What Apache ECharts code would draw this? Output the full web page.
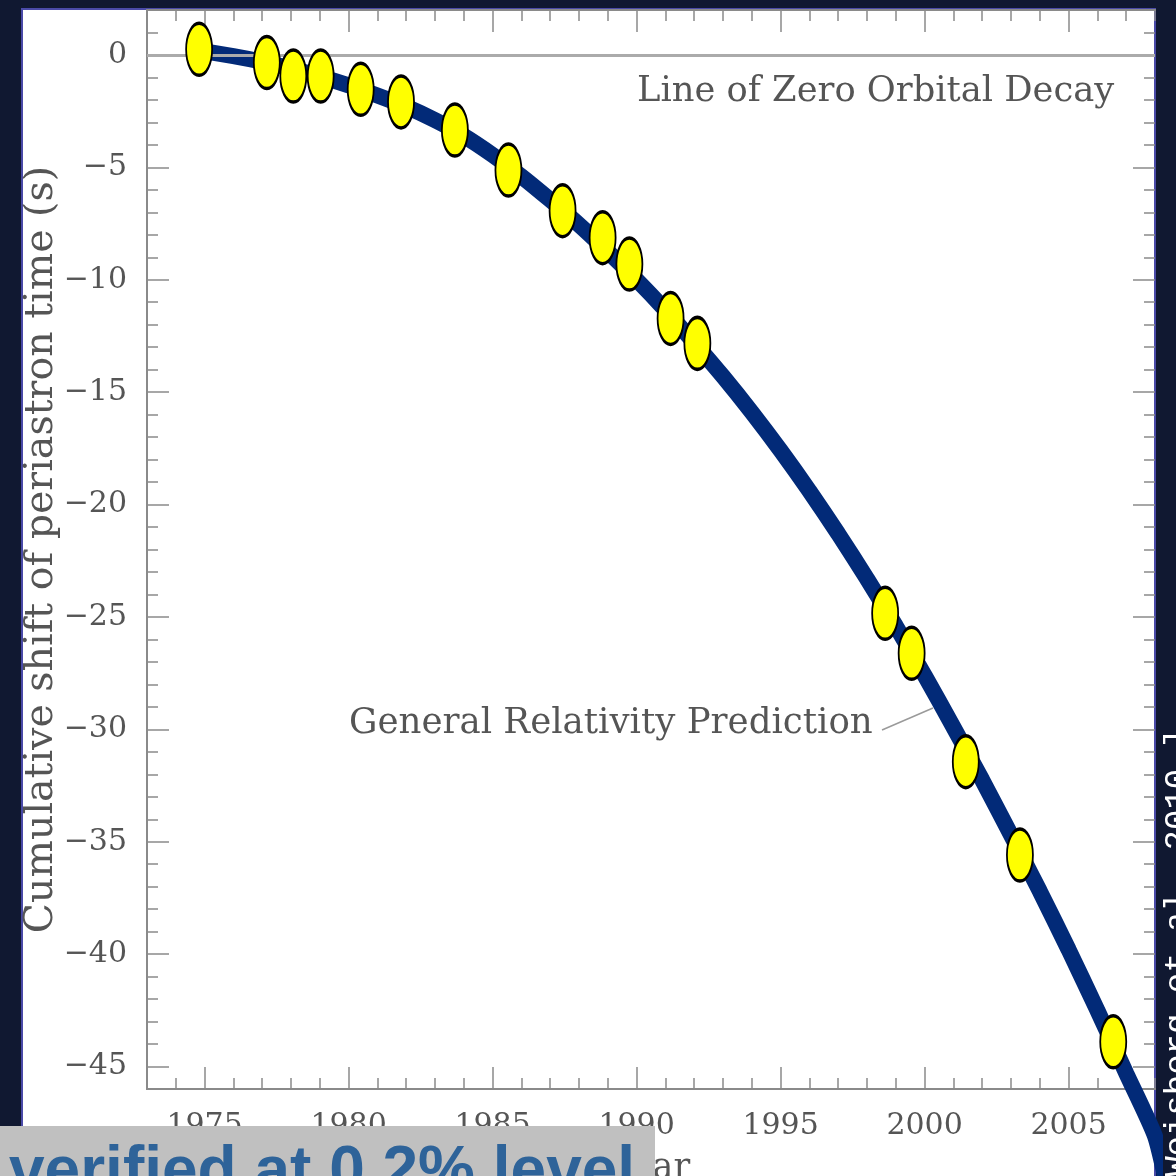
<!DOCTYPE html>
<html>
<head>
<meta charset="utf-8">
<title>Cumulative shift of periastron time</title>
<script src="https://cdn.jsdelivr.net/npm/echarts@6/dist/echarts.min.js"></script>
<style>
  html, body { margin: 0; padding: 0; background: #101831; }
  #chart { width: 1176px; height: 1176px; }
</style>
</head>
<body>
<div id="chart"></div>
<script>
// Measured periastron-time shifts (s) of the binary pulsar, by epoch
const obsYears  = [1974.81, 1977.16, 1978.08, 1979.03, 1980.42, 1981.82, 1983.69, 1985.55, 1987.43,
                   1988.82, 1989.75, 1991.18, 1992.11, 1998.63, 1999.55, 2001.43, 2003.31, 2006.55];
const obsShifts = [0.25, -0.34, -0.94, -0.94, -1.53, -2.09, -3.34, -5.12, -6.93,
                   -8.13, -9.30, -11.72, -12.83, -24.84, -26.62, -31.44, -35.59, -43.90];

// General Relativity prediction curve
const grYears  = [1974.8, 1976, 1977, 1978, 1979, 1980, 1981, 1982, 1983, 1984, 1985, 1986, 1987,
                  1988, 1989, 1990, 1991, 1992, 1993, 1994, 1995, 1996, 1997, 1998, 1999, 2000,
                  2001, 2002, 2003, 2004, 2005, 2006, 2007, 2008, 2008.5];
const grShifts = [0.2, -0.05, -0.3, -0.6, -0.95, -1.35, -1.8, -2.3, -2.9, -3.6, -4.45, -5.4, -6.45,
                  -7.55, -8.75, -10.0, -11.35, -12.8, -14.3, -15.9, -17.6, -19.4, -21.3, -23.3, -25.4, -27.6,
                  -29.9, -32.25, -34.7, -37.2, -39.8, -42.5, -45.3, -48.1, -50.8];

// Axis ticks and labels
const yearMajor  = [1975, 1980, 1985, 1990, 1995, 2000, 2005];
const yearMinor  = [1973, 1974, 1975, 1976, 1977, 1978, 1979, 1980, 1981, 1982, 1983, 1984, 1985, 1986,
                    1987, 1988, 1989, 1990, 1991, 1992, 1993, 1994, 1995, 1996, 1997, 1998, 1999, 2000,
                    2001, 2002, 2003, 2004, 2005, 2006, 2007, 2008];
const shiftMajor = [0, -5, -10, -15, -20, -25, -30, -35, -40, -45];
const shiftMinor = [2, 1, 0, -1, -2, -3, -4, -5, -6, -7, -8, -9, -10, -11, -12, -13, -14, -15, -16, -17,
                    -18, -19, -20, -21, -22, -23, -24, -25, -26, -27, -28, -29, -30, -31, -32, -33, -34,
                    -35, -36, -37, -38, -39, -40, -41, -42, -43, -44, -45, -46];

const X_MIN = 1973, X_MAX = 2008, Y_MIN = -46, Y_MAX = 2;
const AXIS_GREY = '#8a8a8a';
const TEXT_GREY = '#555';
const SERIF = '"DejaVu Serif", "Liberation Serif", serif';

function xAxisDef(position, ticks, len, withLabels) {
  return {
    type: 'value', position: position, min: X_MIN, max: X_MAX,
    axisLine: { show: true, onZero: false, lineStyle: { color: AXIS_GREY, width: 2 } },
    axisTick: { show: true, inside: true, length: len, customValues: ticks,
                lineStyle: { color: AXIS_GREY, width: 1.5 } },
    axisLabel: withLabels ? { show: true, customValues: yearMajor, margin: 22, fontSize: 30,
                fontFamily: SERIF, color: TEXT_GREY, formatter: v => String(v) } : { show: false },
    splitLine: { show: false }
  };
}
function yAxisDef(position, ticks, len, withLabels, lineShow) {
  return {
    type: 'value', position: position, min: Y_MIN, max: Y_MAX,
    axisLine: { show: lineShow, onZero: false, lineStyle: { color: AXIS_GREY, width: 2 } },
    axisTick: { show: true, inside: true, length: len, customValues: ticks,
                lineStyle: { color: AXIS_GREY, width: 1.5 } },
    axisLabel: withLabels ? { show: true, customValues: shiftMajor, margin: 20, fontSize: 30,
                fontFamily: SERIF, color: TEXT_GREY,
                formatter: v => String(v).replace('-', '\u2212') } : { show: false },
    splitLine: { show: false }
  };
}

const xAxes = [
  xAxisDef('bottom', yearMajor, 22, true),
  xAxisDef('bottom', yearMinor, 11, false),
  xAxisDef('top', yearMajor, 22, false),
  xAxisDef('top', yearMinor, 11, false)
];
Object.assign(xAxes[0], {
  name: 'Year', nameLocation: 'middle', nameGap: 62, nameMoveOverlap: false,
  nameTextStyle: { fontSize: 35, fontFamily: SERIF, color: TEXT_GREY }
});

const yAxes = [
  yAxisDef('left', shiftMajor, 22, true, true),
  yAxisDef('left', shiftMinor, 11, false, false),
  yAxisDef('right', shiftMajor, 22, false, false),
  yAxisDef('right', shiftMinor, 11, false, false)
];
Object.assign(yAxes[0], {
  name: 'Cumulative shift of periastron time (s)', nameLocation: 'middle', nameGap: 85,
  nameMoveOverlap: false,
  nameTextStyle: { fontSize: 39.5, fontFamily: SERIF, color: TEXT_GREY }
});

const chart = echarts.init(document.getElementById('chart'), null, { renderer: 'canvas' });

chart.setOption({
  backgroundColor: '#101831',
  animation: false,
  grid: { left: 147, right: 21, top: 10, bottom: 87, containLabel: false, outerBoundsMode: 'none' },
  xAxis: xAxes,
  yAxis: yAxes,
  graphic: [
    { // white plotting panel
      type: 'rect', z: -5, silent: true,
      shape: { x: 22, y: 9, width: 1133, height: 1200 },
      style: { fill: '#ffffff', stroke: '#4a4aa8', lineWidth: 2 }
    },
    {
      type: 'text', z: 10, left: 637, top: 74,
      style: { text: 'Line of Zero Orbital Decay', font: '35.3px ' + SERIF, fill: TEXT_GREY }
    },
    {
      type: 'text', z: 10, left: 349, top: 706,
      style: { text: 'General Relativity Prediction', font: '35.6px ' + SERIF, fill: TEXT_GREY }
    },
    { // leader from the label to the curve
      type: 'line', z: 10,
      shape: { x1: 882, y1: 730, x2: 933, y2: 708 },
      style: { stroke: '#9a9a9a', lineWidth: 1.5 }
    },
    { // caption band
      type: 'rect', z: 100, silent: true,
      shape: { x: 0, y: 1126, width: 655, height: 60 },
      style: { fill: '#c0c0c0' }
    },
    {
      type: 'text', z: 101, x: 9, y: 1173,
      style: { text: 'verified at 0.2% level', font: 'bold 64px "Liberation Sans", Arial, sans-serif',
               fill: '#2e6399', verticalAlign: 'middle', align: 'left' }
    },
    {
      type: 'text', z: 101, x: 1161, y: 728, rotation: Math.PI / 2,
      style: { text: 'Weisberg et al. 2010 ]', font: '34px "Liberation Mono", monospace',
               fill: '#ffffff', verticalAlign: 'top', align: 'right' }
    }
  ],
  series: [
    {
      name: 'General Relativity Prediction',
      type: 'line', xAxisIndex: 0, yAxisIndex: 0,
      data: grYears.map((t, i) => [t, grShifts[i]]),
      showSymbol: false, smooth: 0.2, clip: false, z: 3,
      lineStyle: { color: '#022a78', width: 16, cap: 'butt' },
      markLine: {
        silent: true, symbol: 'none', label: { show: false },
        lineStyle: { color: '#ababab', width: 3, type: 'solid' },
        data: [{ yAxis: 0 }]
      }
    },
    {
      name: 'Observed',
      type: 'scatter', xAxisIndex: 0, yAxisIndex: 0, z: 5,
      data: obsYears.map((t, i) => [t, obsShifts[i]]),
      symbol: 'path://M50,0A50,50 0 1,1 50,100A50,50 0 1,1 50,0Z',
      symbolSize: [26, 52],
      itemStyle: { color: '#ffff00', borderColor: '#000000', borderWidth: 2.5, opacity: 1 }
    }
  ]
});
</script>
</body>
</html>
